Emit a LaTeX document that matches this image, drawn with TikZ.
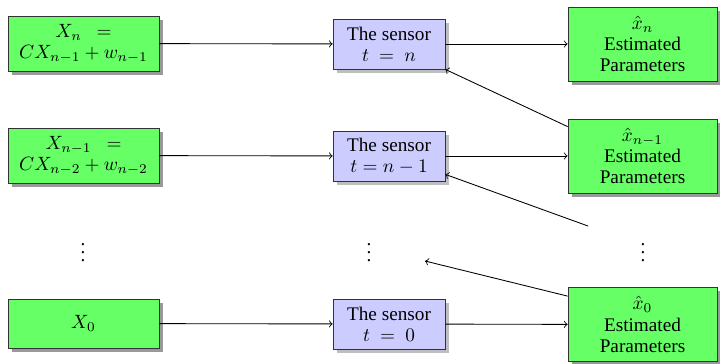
\documentclass[tikz,border=0pt]{standalone}
\usepackage{fontspec}
\setmainfont{Liberation Serif}
\usetikzlibrary{shadows,calc}
\tikzset{
  srcbox/.style={draw=black!80, fill=green!60, align=center, minimum width=78.5pt, minimum height=28.6pt, inner sep=1pt,
    drop shadow={shadow xshift=2pt, shadow yshift=-2pt, fill=black!40, opacity=1}},
  sensbox/.style={draw=black!80, fill=blue!20, align=center, minimum width=58.2pt, minimum height=26pt, inner sep=1pt,
    drop shadow={shadow xshift=2pt, shadow yshift=-2pt, fill=black!25, opacity=1}},
  estbox/.style={draw=black!80, fill=green!60, align=center, minimum width=77.5pt, minimum height=38.5pt, inner sep=1pt,
    drop shadow={shadow xshift=2pt, shadow yshift=-2pt, fill=black!40, opacity=1}},
  conn/.style={->, line width=0.45pt}
}
\begin{document}
\begin{tikzpicture}[x=0.52pt, y=-0.52pt]
\useasboundingbox (0,0) rectangle (720,363);
% left column
\node[srcbox] (x1) at (83.5,43.5) {$X_n~~=$\\[-1pt]$CX_{n-1}+w_{n-1}$};
\node[srcbox] (x2) at (83.5,155.5) {$X_{n-1}~~=$\\[-1pt]$CX_{n-2}+w_{n-2}$};
\node[srcbox, minimum height=25.5pt] (x0) at (83.5,323.5) {$X_0$};
% sensors
\node[sensbox] (s1) at (389,44) {The sensor\\[-1pt]$t~=~n$};
\node[sensbox] (s2) at (389,156) {The sensor\\[-1pt]$t=n-1$};
\node[sensbox] (s0) at (389,324) {The sensor\\[-1pt]$t~=~0$};
% estimates
\node[estbox] (e1) at (642.5,44) {$\hat{x}_n$\\[-1pt]Estimated\\[-1pt]Parameters};
\node[estbox] (e2) at (642.5,156) {$\hat{x}_{n-1}$\\[-1pt]Estimated\\[-1pt]Parameters};
\node[estbox] (e0) at (642.5,324.5) {$\hat{x}_0$\\[-1pt]Estimated\\[-1pt]Parameters};
% dots
\node (d1) at (83,247) {$\vdots$};
\node (d2) at (369,247) {$\vdots$};
\node (d3) at (643,247) {$\vdots$};
% horizontal connectors
\draw[conn] (x1) -- (s1);
\draw[conn] (x2) -- (s2);
\draw[conn] (x0) -- (s0);
\draw[conn] (s1) -- (e1);
\draw[conn] (s2) -- (e2);
\draw[conn] (s0) -- (e0);
% diagonal connectors
\coordinate (f2) at (588,226);
\coordinate (f3) at (425,261);
\draw[conn] ($(e2.north west)+(0,8)$) -- (s1.south east);
\draw[conn] (f2) -- ($(s2.south east)+(0,-7)$);
\draw[conn] ($(e0.north west)+(0,9)$) -- (f3);
\end{tikzpicture}
\end{document}
